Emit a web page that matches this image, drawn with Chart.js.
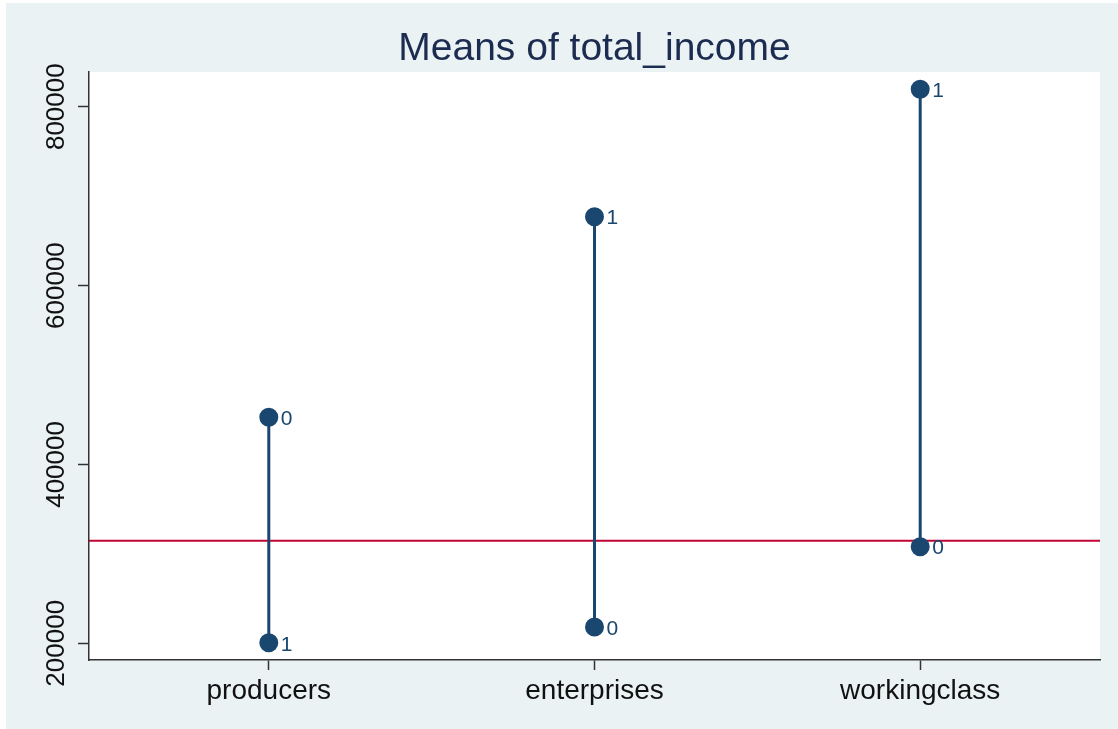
<!DOCTYPE html>
<html>
<head>
<meta charset="utf-8">
<script src="https://cdn.jsdelivr.net/npm/chart.js@4"></script>
<style>
  html, body { margin: 0; padding: 0; background: #fff; }
  #wrap { width: 1118px; height: 729px; }
</style>
</head>
<body>
<div id="wrap"><canvas id="chart" width="1118" height="729"></canvas></div>
<script>
// data
const categories = ["producers", "enterprises", "workingclass"];
const group0 = [452700, 218200, 308000]; // marker labelled "0"
const group1 = [200600, 677000, 819500]; // marker labelled "1"
const groupLabels = ["0", "1"];
const overallMean = 314700;
const yTicks = [200000, 400000, 600000, 800000];

const NAVY = "#1a476f";
const FONT = "'Liberation Sans', Arial, sans-serif";

// one vertical stick per category
const datasets = categories.map((c, i) => ({
  label: c,
  data: [
    { x: i + 1, y: group0[i] },
    { x: i + 1, y: group1[i] },
  ],
  showLine: true,
  borderColor: NAVY,
  borderWidth: 3,
  backgroundColor: NAVY,
  pointBackgroundColor: NAVY,
  pointBorderColor: NAVY,
  pointRadius: 8,
  pointHoverRadius: 8,
}));

const stataLook = {
  id: "stataLook",
  beforeDraw(chart) {
    const { ctx, chartArea: a, width, height } = chart;
    ctx.save();
    ctx.fillStyle = "#ffffff";
    ctx.fillRect(0, 0, width, height);
    ctx.fillStyle = "#eaf2f3";
    ctx.fillRect(6, 3, width - 6, height - 3);
    ctx.fillStyle = "#ffffff";
    ctx.fillRect(a.left, a.top, a.right - a.left, a.bottom - a.top);

    // title
    ctx.fillStyle = "#1c2b50";
    ctx.font = "39px " + FONT;
    ctx.textAlign = "center";
    ctx.textBaseline = "middle";
    ctx.fillText("Means of total_income", (a.left + a.right) / 2, 49);

    // rotated y tick labels
    const ys = chart.scales.y;
    ctx.fillStyle = "#111";
    ctx.font = "26px " + FONT;
    ys.ticks.forEach((t) => {
      const py = ys.getPixelForValue(t.value);
      ctx.save();
      ctx.translate(57, py);
      ctx.rotate(-Math.PI / 2);
      ctx.textAlign = "center";
      ctx.textBaseline = "middle";
      ctx.fillText(String(t.value), 0, 0);
      ctx.restore();
    });
    ctx.restore();
  },
  beforeDatasetsDraw(chart) {
    // overall mean reference line
    const { ctx, chartArea: a } = chart;
    const py = chart.scales.y.getPixelForValue(overallMean);
    ctx.save();
    ctx.strokeStyle = "#c10534";
    ctx.lineWidth = 2;
    ctx.beginPath();
    ctx.moveTo(a.left, py);
    ctx.lineTo(a.right, py);
    ctx.stroke();
    ctx.restore();
  },
  afterDatasetsDraw(chart) {
    // "0" / "1" labels to the right of each marker
    const { ctx } = chart;
    ctx.save();
    ctx.fillStyle = NAVY;
    ctx.font = "21px " + FONT;
    ctx.textAlign = "left";
    ctx.textBaseline = "middle";
    chart.data.datasets.forEach((ds, di) => {
      chart.getDatasetMeta(di).data.forEach((pt, pi) => {
        ctx.fillText(groupLabels[pi], pt.x + 12, pt.y + 2);
      });
    });
    ctx.restore();
  },
};

new Chart(document.getElementById("chart"), {
  type: "line",
  data: { datasets },
  options: {
    responsive: false,
    animation: false,
    layout: { padding: { left: 0, right: 18, top: 72, bottom: 0 } },
    plugins: {
      legend: { display: false },
      tooltip: { enabled: false },
      title: { display: false },
    },
    scales: {
      x: {
        type: "linear",
        min: 0.448,
        max: 3.552,
        afterBuildTicks: (s) => {
          s.ticks = categories.map((c, i) => ({ value: i + 1 }));
        },
        afterFit: (s) => { s.height = 69; },
        border: { display: true, color: "#333", width: 1.5 },
        grid: { drawOnChartArea: false, tickLength: 10, tickColor: "#333", tickWidth: 1.5 },
        ticks: {
          autoSkip: false,
          maxRotation: 0,
          padding: 4,
          color: "#111",
          font: { family: FONT, size: 28 },
          callback: (v) => categories[v - 1] || "",
        },
      },
      y: {
        type: "linear",
        min: 181300,
        max: 838800,
        afterBuildTicks: (s) => {
          s.ticks = yTicks.map((v) => ({ value: v }));
        },
        afterFit: (s) => { s.width = 89; },
        border: { display: true, color: "#333", width: 1.5 },
        grid: { drawOnChartArea: false, tickLength: 11, tickColor: "#333", tickWidth: 1.5 },
        ticks: { display: false },
      },
    },
  },
  plugins: [stataLook],
});
</script>
</body>
</html>
